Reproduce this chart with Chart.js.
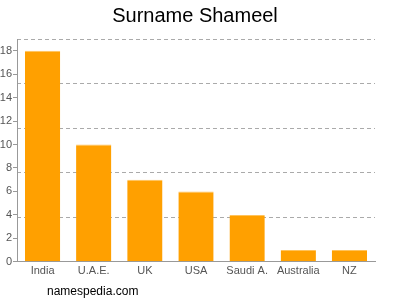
<!DOCTYPE html>
<html>
<head>
<meta charset="utf-8">
<script src="https://cdn.jsdelivr.net/npm/chart.js@4"></script>
<style>
  html, body { margin: 0; padding: 0; background: #fff; }
  #wrap { position: relative; width: 400px; height: 300px; }
  #title { position: absolute; left: 0; width: 390px; top: 4px; line-height: 20px; text-align: center; font: 20px "Liberation Sans", Arial, sans-serif; color: #000; }
  #footer { position: absolute; left: 47px; top: 284px; font: 12px "Liberation Sans", Arial, sans-serif; color: #000; }
</style>
</head>
<body>
<div id="wrap">
  <canvas id="chart" width="400" height="300"></canvas>
  <div id="title">Surname Shameel</div>
  <div id="footer">namespedia.com</div>
</div>
<script>
const countries = ['India', 'U.A.E.', 'UK', 'USA', 'Saudi A.', 'Australia', 'NZ'];
const counts = [18, 10, 7, 6, 4, 1, 1];
const yTicks = [0, 2, 4, 6, 8, 10, 12, 14, 16, 18];
const gridValues = [3.8, 7.6, 11.4, 15.2, 19];

const ctx = document.getElementById('chart').getContext('2d');
const chart = new Chart(ctx, {
    type: 'bar',
    data: {
        labels: countries,
        datasets: [{
            data: counts,
            backgroundColor: '#ffa000',
            borderColor: '#ffc35c',
            borderWidth: { top: 1, left: 0, right: 0, bottom: 0 },
            borderSkipped: false,
            categoryPercentage: 0.69,
            barPercentage: 1
        }]
    },
    options: {
        responsive: false,
        animation: false,
        layout: { padding: { top: 39, right: 25, bottom: 19, left: 0 } },
        plugins: {
            legend: { display: false },
            tooltip: { enabled: false },
            title: { display: false }
        },
        scales: {
            x: {
                grid: { display: false, drawTicks: false, tickLength: 0 },
                border: { color: '#999' },
                ticks: { color: '#555', font: { family: 'Liberation Sans', size: 11 }, padding: 3 }
            },
            y: {
                min: 0, max: 19,
                afterBuildTicks: s => { s.ticks = yTicks.map(v => ({ value: v })); },
                afterFit: s => { s.width = 17; },
                grid: { drawOnChartArea: false, tickLength: 4, color: '#999' },
                border: { color: '#999' },
                ticks: { color: '#555', font: { family: 'Liberation Sans', size: 11 }, padding: 1 }
            },
            grid2: {
                position: 'left',
                min: 0, max: 19,
                afterBuildTicks: s => { s.ticks = gridValues.map(v => ({ value: v })); },
                afterFit: s => { s.width = 0; },
                ticks: { display: false },
                border: { display: false, dash: [4, 3] },
                grid: { drawTicks: false, color: '#aaa' }
            }
        }
    }
});
</script>
</body>
</html>
